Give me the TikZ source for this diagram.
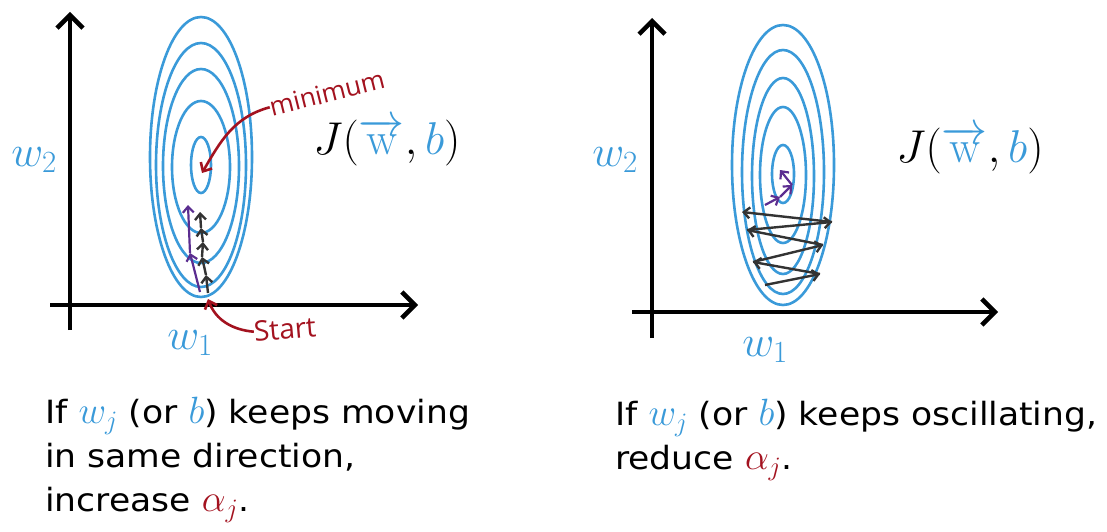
\RequirePackage{fix-cm}
\documentclass[tikz,border=0pt]{standalone}
\usepackage[no-math]{fontspec}
\setmainfont[FakeStretch=1.08]{DejaVu Sans}
\newfontfamily\handfont{Open Sans}
\usetikzlibrary{arrows.meta,positioning}
\definecolor{wblue}{HTML}{3A9AD9}
\definecolor{minred}{HTML}{A3121F}
\definecolor{steppurple}{HTML}{5B2D90}
\definecolor{stepgray}{HTML}{333333}
\newcommand{\rulemath}[2]{{\fontsize{38}{44}\selectfont\textcolor{#1}{$#2$}}}
\tikzset{
  axis/.style={line width=4.5pt, -{Straight Barb[length=13pt,width=26pt]}},
  contour/.style={wblue, line width=2.6pt},
  gdstep/.style={stepgray, line width=2.4pt, -{Straight Barb[length=6pt,width=11pt]}},
  gdpurple/.style={steppurple, line width=2.2pt, -{Straight Barb[length=6pt,width=11pt]}},
  handarrow/.style={minred, line width=2.6pt, -{Straight Barb[length=7pt,width=13pt]}},
  wlabel/.style={text=wblue, font=\fontsize{44}{44}\selectfont, inner sep=0pt},
  costlabel/.style={font=\fontsize{46}{46}\selectfont, inner sep=0pt},
  handnote/.style={text=minred, font=\handfont\fontsize{26}{26}\selectfont, inner sep=0pt},
  rulebox/.style={align=left, anchor=north west, inner sep=0pt,
    font=\fontsize{32}{44}\selectfont}
}
\begin{document}
\begin{tikzpicture}[x=1pt,y=-1pt]
\useasboundingbox (0,0) rectangle (1107,532);

% left: slow steps in one direction
\coordinate (lyb) at (70,330);  \coordinate (lyt) at (70,12);
\coordinate (lxl) at (50,305);  \coordinate (lxr) at (418,305);
\foreach \rx/\ry/\cy in {10/28/165, 29/66/167, 38/97/166, 45/122/165, 51/140/157}
  \draw[contour] (201,\cy) ellipse ({\rx} and {\ry});
\draw[axis] (lyb) -- (lyt);
\draw[axis] (lxl) -- (lxr);
\node[wlabel] (lw2) at (34,160) {$w_2$};
\node[wlabel] (lw1) at (190,343) {$w_1$};
\node[costlabel] (lJ) at (387,142) {$J(\textcolor{wblue}{\overrightarrow{\mathrm{w}}},\textcolor{wblue}{b})$};

\foreach \n/\p in {p0/{208,293}, p1/{206,275}, p2/{202,257}, p3/{203,242}, p4/{201,228}, p5/{200,212}}
  \coordinate (\n) at (\p);
\foreach \a/\b in {p0/p1, p1/p2, p2/p3, p3/p4, p4/p5}
  \draw[gdstep] (\a) -- (\b);
\coordinate (q0) at (200,292); \coordinate (q1) at (190,253); \coordinate (q2) at (188,205);
\draw[gdpurple] (q0) -- (q1);
\draw[gdpurple] (q1) -- (q2);

\node[handnote, rotate=14] (minlabel) at (327,93) {minimum};
\coordinate (minpt) at (202,173);
\draw[handarrow] (minlabel.west) to[out=195,in=60] (minpt);
\node[handnote, font=\handfont\fontsize{28}{28}\selectfont, rotate=5] (startlabel) at (285,329) {Start};
\coordinate (startpt) at (208,299);
\draw[handarrow] (startlabel.west) to[out=175,in=-70] (startpt);

\node[rulebox] (lrule) at (45,397) {If \rulemath{wblue}{w_j} (or \rulemath{wblue}{b}) keeps moving\\in same direction,\\increase \rulemath{minred}{\alpha_j}.};

% right: oscillating steps
\coordinate (ryb) at (652,338);  \coordinate (ryt) at (652,18);
\coordinate (rxl) at (632,312);  \coordinate (rxr) at (998,312);
\foreach \rx/\ry/\cy in {11/29/174, 23/68/175, 31/98/176, 41/122/172, 51/140/165}
  \draw[contour] (783,\cy) ellipse ({\rx} and {\ry});
\draw[axis] (ryb) -- (ryt);
\draw[axis] (rxl) -- (rxr);
\node[wlabel] (rw2) at (615,160) {$w_2$};
\node[wlabel] (rw1) at (765,350) {$w_1$};
\node[costlabel] (rJ) at (970,150) {$J(\textcolor{wblue}{\overrightarrow{\mathrm{w}}},\textcolor{wblue}{b})$};

\foreach \n/\p in {z0/{765,285}, z1/{820,274}, z2/{753,262}, z3/{823,245}, z4/{747,230}, z5/{832,222}, z6/{742,212}}
  \coordinate (\n) at (\p);
\foreach \a/\b in {z0/z1, z1/z2, z2/z3, z3/z4, z4/z5, z5/z6}
  \draw[gdstep] (\a) -- (\b);
\coordinate (s0) at (765,205); \coordinate (s1) at (780,197);
\coordinate (s2) at (792,185); \coordinate (s3) at (780,170);
\foreach \a/\b in {s0/s1, s1/s2, s2/s3}
  \draw[gdpurple] (\a) -- (\b);

\node[rulebox] (rrule) at (615,399) {If \rulemath{wblue}{w_j} (or \rulemath{wblue}{b}) keeps oscillating,\\reduce \rulemath{minred}{\alpha_j}.};
\end{tikzpicture}
\end{document}
